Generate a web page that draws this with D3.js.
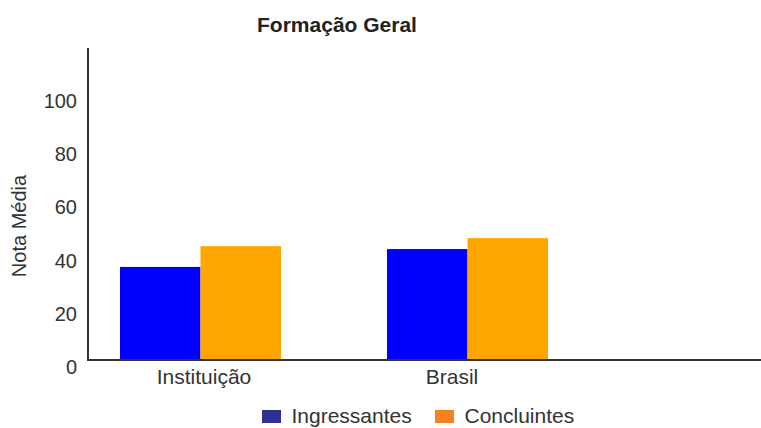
<!DOCTYPE html>
<html>
<head>
<script src="https://d3js.org/d3.v7.min.js" charset="utf-8"></script>
<style>
    body{
        margin:0;
        background:#fff;
        font-family:"Liberation Sans",Arial,helvetica,sans-serif;
    }
</style>
</head>
<body>
<div id="chart"></div>
<script>
    var categories = ["Instituição","Brasil"]
    var series = ["Ingressantes","Concluintes"]
    var ingressantes = [34.9,41.6]
    var concluintes = [42.7,45.7]
    var yTicks = [0,20,40,60,80,100]
    var barColors = ["#0000ff","#ffa500"]
    var legendColors = ["#2e3192","#f58220"]

    var width = 761
    var height = 428
    var textColor = "#333"

    var svg = d3.select("#chart")
        .append("svg")
        .attr("width",width)
        .attr("height",height)

    // group positions
    var x0 = d3.scaleBand().domain(categories).range([67,601])
        .paddingInner(0.397).paddingOuter(0.1985)
    var x1 = d3.scaleBand().domain(series).range([0,x0.bandwidth()])
    var labelX = d3.scalePoint().domain(categories).range([204,452])
    var y = d3.scaleLinear().domain([0,117]).range([360,48])

    var values = {Ingressantes:ingressantes,Concluintes:concluintes}

    series.forEach(function(s,si){
        svg.selectAll(".bar"+si)
            .data(categories)
            .enter()
            .append("rect")
            .attr("class","bar"+si)
            .attr("x",function(c){return x0(c)+x1(s)})
            .attr("y",function(c,i){return y(values[s][i])})
            .attr("width",x1.bandwidth())
            .attr("height",function(c,i){return y(0)-y(values[s][i])})
            .attr("fill",barColors[si])
    })

    // axes
    svg.append("line")
        .attr("x1",88).attr("x2",88)
        .attr("y1",y.range()[1]).attr("y2",y(0)+1)
        .attr("stroke","#333").attr("stroke-width",2)
    svg.append("line")
        .attr("x1",87).attr("x2",width)
        .attr("y1",y(0)).attr("y2",y(0))
        .attr("stroke","#333").attr("stroke-width",2)

    svg.selectAll(".ytick")
        .data(yTicks)
        .enter()
        .append("text")
        .attr("class","ytick")
        .attr("x",77)
        .attr("y",function(d){return y(d)})
        .attr("dy","0.72em")
        .attr("text-anchor","end")
        .attr("font-size",20)
        .attr("fill",textColor)
        .text(function(d){return d})

    svg.selectAll(".xlabel")
        .data(categories)
        .enter()
        .append("text")
        .attr("class","xlabel")
        .attr("x",function(d){return labelX(d)})
        .attr("y",384)
        .attr("text-anchor","middle")
        .attr("font-size",21)
        .attr("fill",textColor)
        .text(function(d){return d})

    svg.append("text")
        .attr("transform","translate(26,226) rotate(-90)")
        .attr("text-anchor","middle")
        .attr("font-size",20)
        .attr("fill",textColor)
        .text("Nota Média")

    svg.append("text")
        .attr("x",337)
        .attr("y",31.5)
        .attr("text-anchor","middle")
        .attr("font-size",21)
        .attr("font-weight","bold")
        .attr("fill","#222")
        .text("Formação Geral")

    // legend
    var legendX = [262,435]
    var legend = svg.selectAll(".legend")
        .data(series)
        .enter()
        .append("g")
        .attr("class","legend")
        .attr("transform",function(d,i){return "translate("+legendX[i]+",410)"})
    legend.append("rect")
        .attr("width",19).attr("height",13)
        .attr("fill",function(d,i){return legendColors[i]})
    legend.append("text")
        .attr("x",29.5).attr("y",13)
        .attr("font-size",21)
        .attr("fill",textColor)
        .text(function(d){return d})
</script>
</body>
</html>
